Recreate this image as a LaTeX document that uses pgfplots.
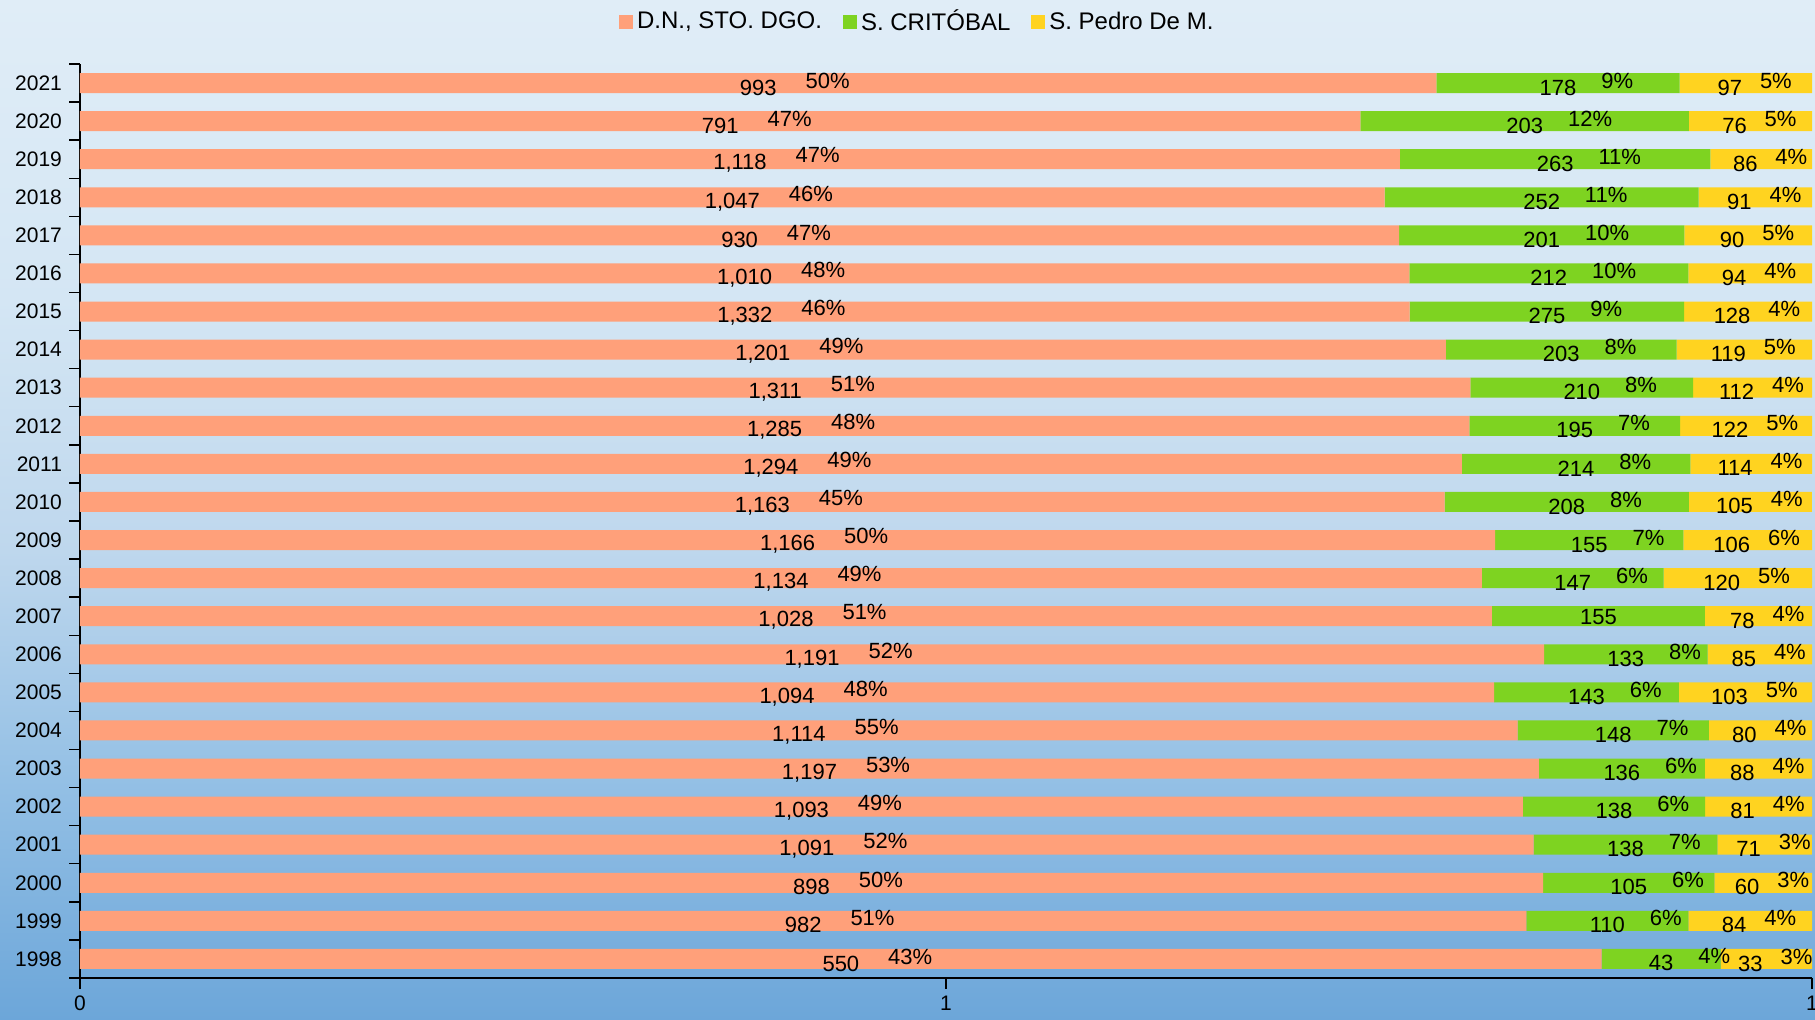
\documentclass[border=0pt]{standalone}
\usepackage{pgfplots}
\pgfplotsset{compat=1.18}
\usepackage{pgfplotstable}
\usepackage{fontspec}
\setmainfont{Liberation Sans}
\pgfkeys{/pgf/number format/assume math mode=true}

\definecolor{cA}{RGB}{255,160,122}
\definecolor{cB}{RGB}{126,211,33}
\definecolor{cC}{RGB}{255,211,32}
\definecolor{bgtop}{RGB}{224,237,247}
\definecolor{bgm1}{RGB}{212,230,244}
\definecolor{bgm2}{RGB}{190,215,237}
\definecolor{bgm3}{RGB}{148,192,229}
\definecolor{bgbot}{RGB}{108,166,217}
\pgfdeclareverticalshading{bgshade}{100bp}{color(0bp)=(bgbot); color(25bp)=(bgbot); color(36.8bp)=(bgm3); color(48bp)=(bgm2); color(60.3bp)=(bgm1); color(75bp)=(bgtop); color(100bp)=(bgtop)}

% pb = -1 : no percentage label shown
\pgfplotstableread{
year a pa b pb c pc
2021 993 50 178 9 97 5
2020 791 47 203 12 76 5
2019 1118 47 263 11 86 4
2018 1047 46 252 11 91 4
2017 930 47 201 10 90 5
2016 1010 48 212 10 94 4
2015 1332 46 275 9 128 4
2014 1201 49 203 8 119 5
2013 1311 51 210 8 112 4
2012 1285 48 195 7 122 5
2011 1294 49 214 8 114 4
2010 1163 45 208 8 105 4
2009 1166 50 155 7 106 6
2008 1134 49 147 6 120 5
2007 1028 51 155 -1 78 4
2006 1191 52 133 8 85 4
2005 1094 48 143 6 103 5
2004 1114 55 148 7 80 4
2003 1197 53 136 6 88 4
2002 1093 49 138 6 81 4
2001 1091 52 138 7 71 3
2000 898 50 105 6 60 3
1999 982 51 110 6 84 4
1998 550 43 43 4 33 3
}\data

\newcommand{\lab}[1]{\pgfmathprintnumber{\pgfplotspointmeta}\rlap{\hspace{#1}\raisebox{3.5pt}{\ifdim\pct pt<0pt\else\pgfmathprintnumber[fixed,precision=0]{\pct}\%\fi}}}

\begin{document}
\begin{tikzpicture}
\shade[shading=bgshade] (-40pt,-21pt) rectangle (867.5pt,489pt);
\begin{axis}[
  at={(0,0)}, anchor=south west, scale only axis,
  width=866pt, height=457pt,
  xmin=0, xmax=1, ymin=1997.5, ymax=2021.5,
  xbar stacked, bar width=10pt,
  axis x line*=bottom, axis y line*=left,
  axis line style={-, black, line width=0.7pt},
  tick align=outside, major tick length=5.5pt,
  tick style={black, line width=0.7pt},
  xtick={0,0.5,1}, xticklabels={0,1,1},
  ytick={1997.5,1998.5,...,2021.5},
  yticklabels={,1998,1999,2000,2001,2002,2003,2004,2005,2006,2007,2008,2009,2010,2011,2012,2013,2014,2015,2016,2017,2018,2019,2020,2021},
  yticklabel style={yshift=-9.52pt},
  tick label style={font=\fontsize{10.5}{12}\selectfont, text=black},
  legend style={at={(0.484,1)}, anchor=center, yshift=21pt, draw=none, fill=none,
    font=\fontsize{12}{14}\selectfont, legend columns=-1,
    /tikz/every even column/.append style={column sep=8.5pt}},
  legend image code/.code={\fill[#1,draw=none] (0pt,-3.5pt) rectangle (7pt,3.5pt);},
]
\addplot[fill=cA, draw=none] table[x expr=\thisrow{a}/(\thisrow{a}+\thisrow{b}+\thisrow{c}), y=year]{\data};
\addplot[fill=cB, draw=none] table[x expr=\thisrow{b}/(\thisrow{a}+\thisrow{b}+\thisrow{c}), y=year]{\data};
\addplot[fill=cC, draw=none] table[x expr=\thisrow{c}/(\thisrow{a}+\thisrow{b}+\thisrow{c}), y=year]{\data};
\legend{{D.N., STO. DGO.},{S. CRITÓBAL},{S. Pedro De M.}}
\end{axis}
\begin{axis}[
  at={(0,0)}, anchor=south west, scale only axis,
  width=866pt, height=457pt,
  xmin=0, xmax=1, ymin=1997.5, ymax=2021.5,
  hide axis, clip=false,
  every node near coord/.append style={anchor=center, inner sep=0pt, text=black,
    font=\fontsize{11}{12}\selectfont, yshift=-0.5pt},
]
\addplot[draw=none, mark=none, point meta=explicit,
  visualization depends on={\thisrow{pa} \as \pct},
  nodes near coords={\lab{14.5pt}}]
  table[x expr=0.5*\thisrow{a}/(\thisrow{a}+\thisrow{b}+\thisrow{c}), y=year, meta=a]{\data};
\addplot[draw=none, mark=none, point meta=explicit,
  visualization depends on={\thisrow{pb} \as \pct},
  nodes near coords={\lab{12.5pt}}]
  table[x expr=(\thisrow{a}+0.5*\thisrow{b})/(\thisrow{a}+\thisrow{b}+\thisrow{c}), y=year, meta=b]{\data};
\addplot[draw=none, mark=none, point meta=explicit,
  visualization depends on={\thisrow{pc} \as \pct},
  nodes near coords={\lab{9pt}},
  every node near coord/.append style={xshift=-8pt}]
  table[x expr=(\thisrow{a}+\thisrow{b}+0.5*\thisrow{c})/(\thisrow{a}+\thisrow{b}+\thisrow{c}), y=year, meta=c]{\data};
\end{axis}
\pgfresetboundingbox
\useasboundingbox (-40pt,-21pt) rectangle (867.5pt,489pt);
\end{tikzpicture}
\end{document}
